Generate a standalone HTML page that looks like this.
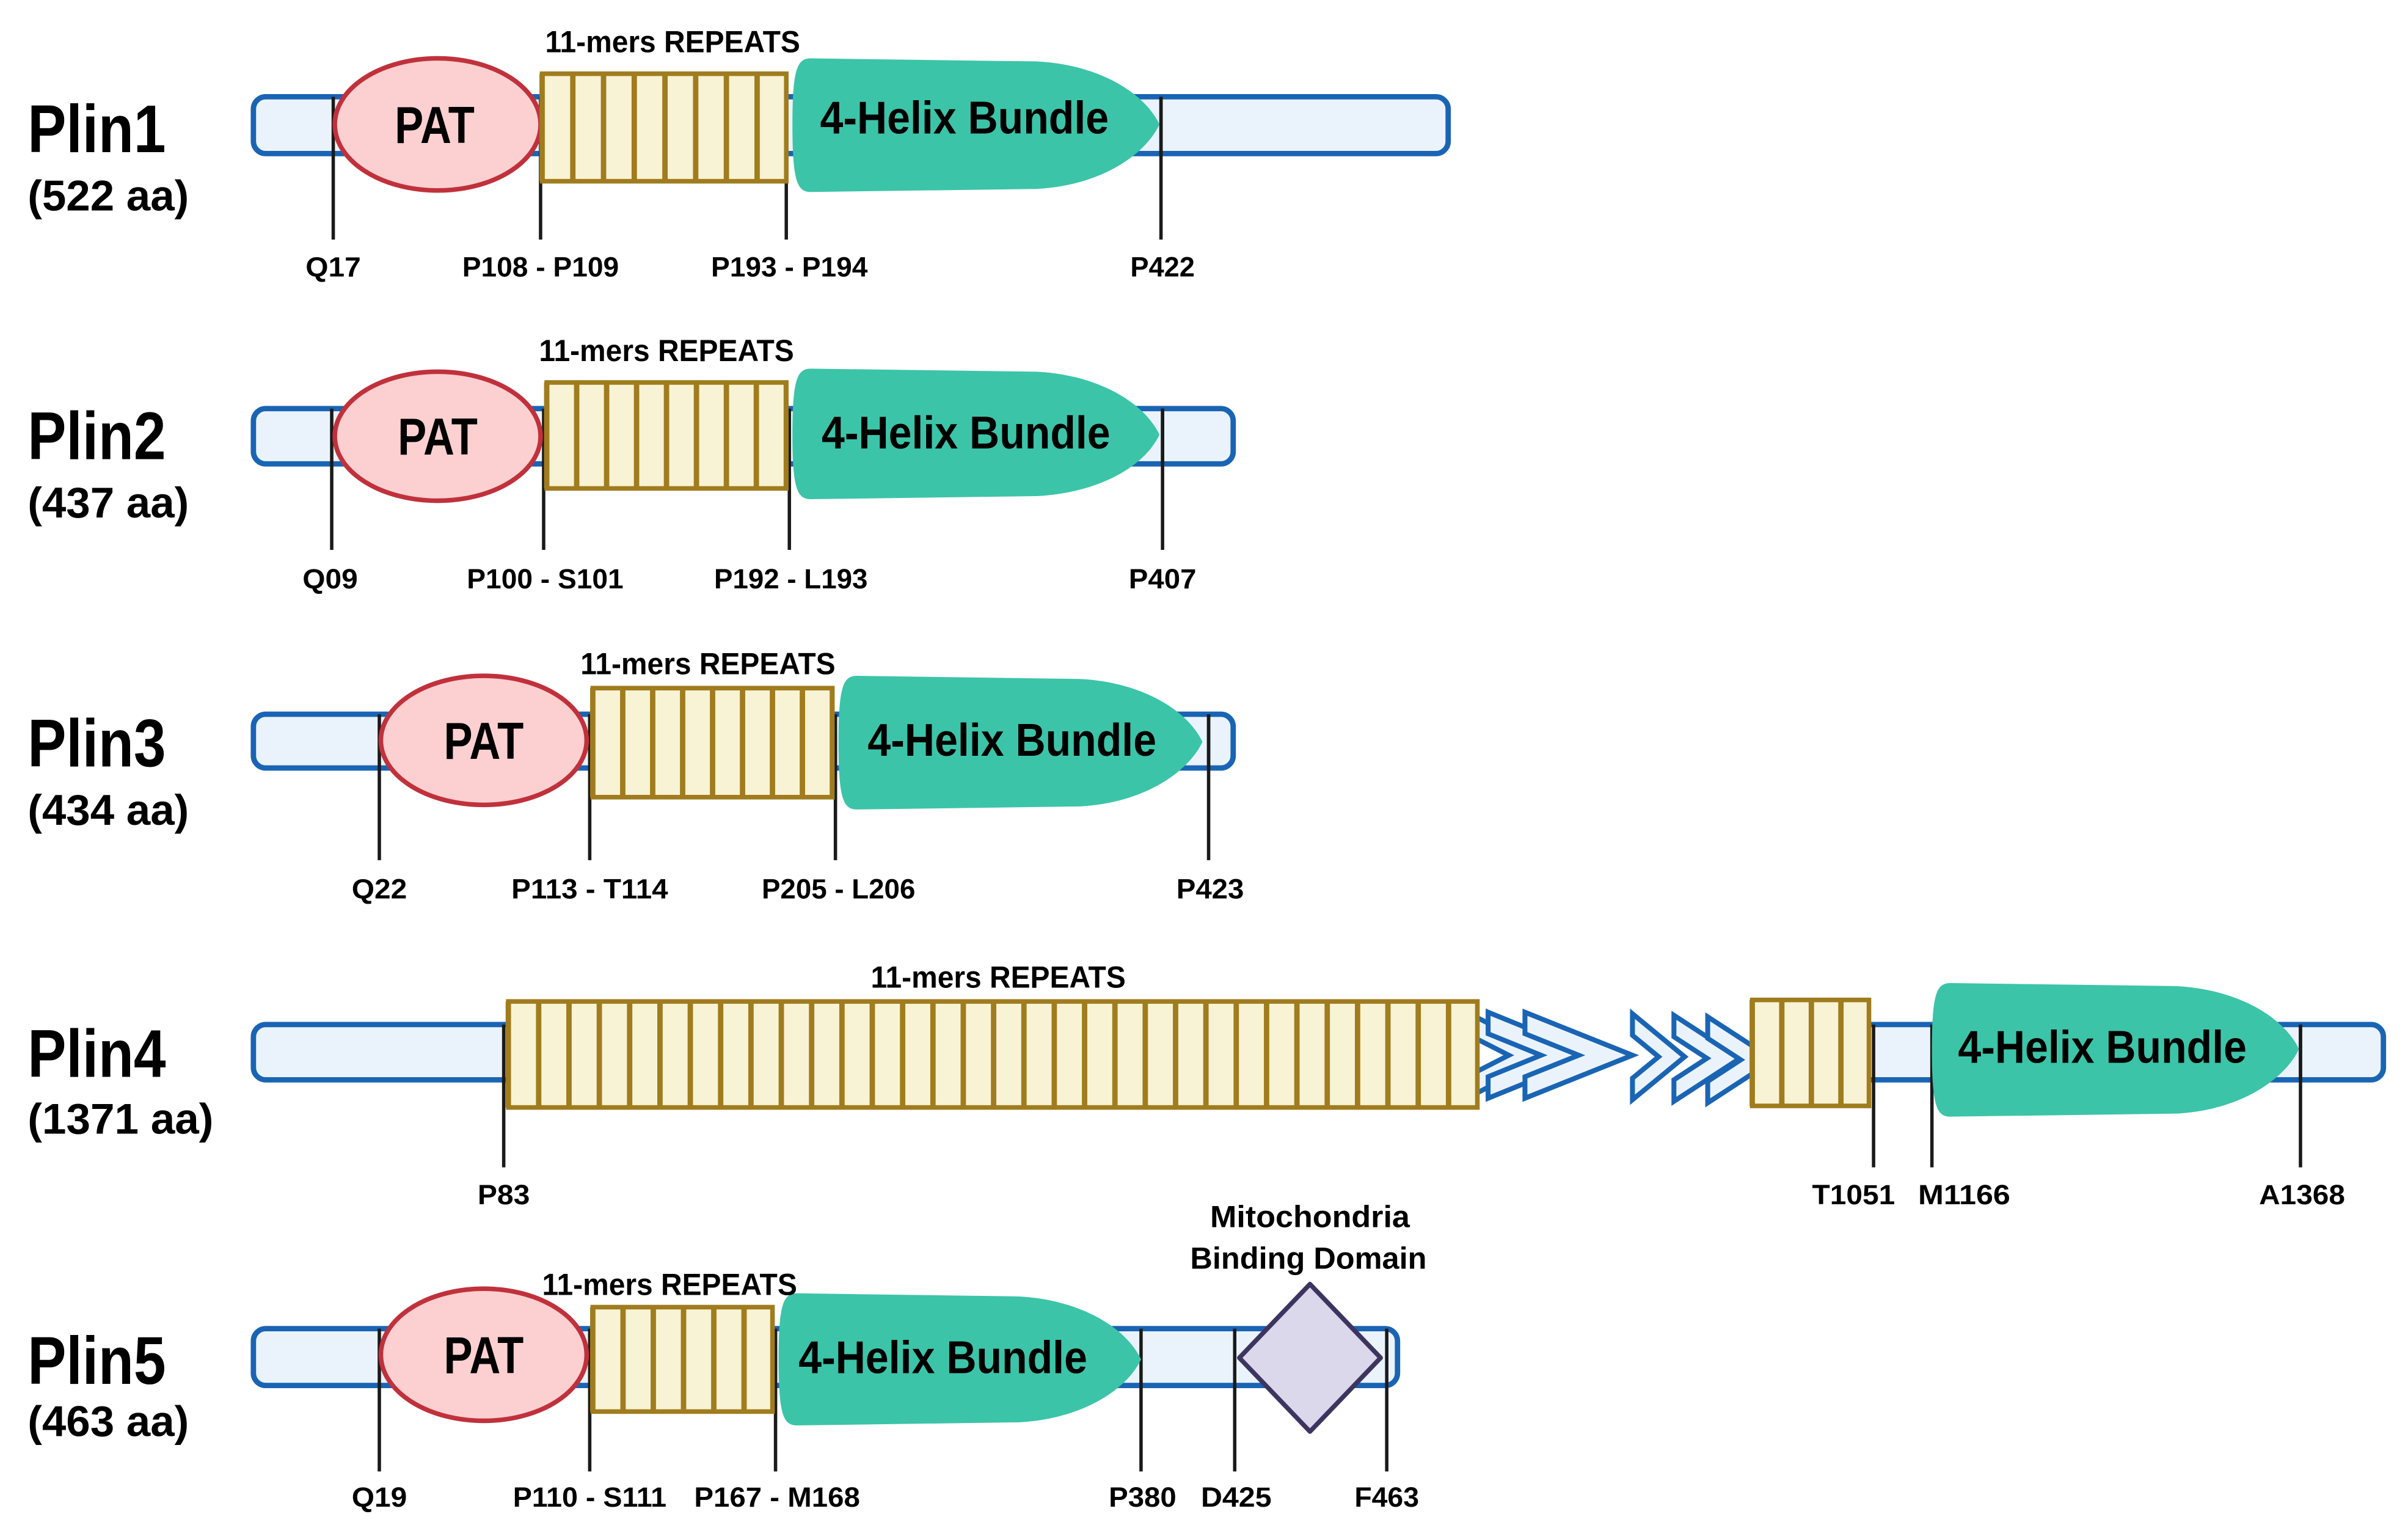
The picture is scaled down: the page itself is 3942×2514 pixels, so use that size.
<!DOCTYPE html>
<html><head><meta charset="utf-8"><style>
html,body{margin:0;padding:0;background:#fff}
svg{display:block}
text{font-family:"Liberation Sans",sans-serif;font-weight:bold;fill:#000}
.bar{fill:#eaf3fc;stroke:#1a64b4;stroke-width:3.5}
.pat{fill:#fcd0d0;stroke:#c0313c;stroke-width:3}
.rep{fill:#f8f3d4;stroke:#a07c1e;stroke-width:3}
.rl{stroke:#a07c1e;fill:none}
.hx{fill:#3cc4a8}
.tk{stroke:#1a1a1a;stroke-width:2.2}
.ch{fill:#eaf3fc;stroke:#1a64b4;stroke-width:3.2;stroke-linejoin:miter}
</style></head><body>
<svg width="3942" height="2514" viewBox="0 0 1568 1000" xmlns="http://www.w3.org/2000/svg">

<!-- ===== Plin1 ===== -->
<text x="18" y="99" font-size="44" textLength="90" lengthAdjust="spacingAndGlyphs">Plin1</text>
<text x="18" y="137" font-size="28" font-weight="normal" textLength="105" lengthAdjust="spacingAndGlyphs">(522 aa)</text>
<rect class="bar" x="165" y="63" width="778" height="37" rx="8"/>
<line class="tk" x1="217" y1="63" x2="217" y2="156"/>
<line class="tk" x1="352" y1="63" x2="352" y2="156"/>
<line class="tk" x1="512" y1="63" x2="512" y2="156"/>
<line class="tk" x1="756" y1="63" x2="756" y2="156"/>
<ellipse class="pat" cx="285" cy="81" rx="67" ry="43"/>
<rect class="rep" x="353" y="48" width="159" height="70"/>
<line class="rl" x1="351.25" y1="83" x2="512" y2="83" stroke-width="70" stroke-dasharray="3.5 16.5"/>
<path class="hx" d="M528,38 L675,40 C715,42 745,60 755,81 C745,102 715,121 675,123 L528,125 C519,125 516,118 516,81 C516,45 519,38 528,38 Z"/>
<line class="tk" x1="756" y1="63" x2="756" y2="100"/>
<text x="283" y="93" font-size="34" text-anchor="middle" textLength="52" lengthAdjust="spacingAndGlyphs">PAT</text>
<text x="628" y="87" font-size="30" text-anchor="middle" textLength="188" lengthAdjust="spacingAndGlyphs">4-Helix Bundle</text>
<text x="438" y="34" font-size="20" text-anchor="middle" textLength="166" lengthAdjust="spacingAndGlyphs">11-mers REPEATS</text>
<text x="217" y="180" font-size="18" text-anchor="middle" textLength="36" lengthAdjust="spacingAndGlyphs">Q17</text>
<text x="352" y="180" font-size="18" text-anchor="middle" textLength="102" lengthAdjust="spacingAndGlyphs">P108 - P109</text>
<text x="514" y="180" font-size="18" text-anchor="middle" textLength="102" lengthAdjust="spacingAndGlyphs">P193 - P194</text>
<text x="757" y="180" font-size="18" text-anchor="middle" textLength="42" lengthAdjust="spacingAndGlyphs">P422</text>

<!-- ===== Plin2 ===== -->
<text x="18" y="299" font-size="44" textLength="90" lengthAdjust="spacingAndGlyphs">Plin2</text>
<text x="18" y="337" font-size="28" font-weight="normal" textLength="105" lengthAdjust="spacingAndGlyphs">(437 aa)</text>
<rect class="bar" x="165" y="266" width="638" height="36" rx="8"/>
<line class="tk" x1="216" y1="266" x2="216" y2="358"/>
<line class="tk" x1="354" y1="266" x2="354" y2="358"/>
<line class="tk" x1="514" y1="266" x2="514" y2="358"/>
<line class="tk" x1="757" y1="266" x2="757" y2="358"/>
<ellipse class="pat" cx="285" cy="284" rx="67" ry="42"/>
<rect class="rep" x="356" y="249" width="156" height="69"/>
<line class="rl" x1="354.25" y1="283.5" x2="512" y2="283.5" stroke-width="69" stroke-dasharray="3.5 16"/>
<path class="hx" d="M528,240 L675,242 C715,244 745,262 755,283 C745,304 715,321 675,323 L528,325 C519,325 516,318 516,283 C516,247 519,240 528,240 Z"/>
<line class="tk" x1="757" y1="266" x2="757" y2="302"/>
<text x="285" y="296" font-size="34" text-anchor="middle" textLength="52" lengthAdjust="spacingAndGlyphs">PAT</text>
<text x="629" y="292" font-size="30" text-anchor="middle" textLength="188" lengthAdjust="spacingAndGlyphs">4-Helix Bundle</text>
<text x="434" y="235" font-size="20" text-anchor="middle" textLength="166" lengthAdjust="spacingAndGlyphs">11-mers REPEATS</text>
<text x="215" y="383" font-size="18" text-anchor="middle" textLength="36" lengthAdjust="spacingAndGlyphs">Q09</text>
<text x="355" y="383" font-size="18" text-anchor="middle" textLength="102" lengthAdjust="spacingAndGlyphs">P100 - S101</text>
<text x="515" y="383" font-size="18" text-anchor="middle" textLength="100" lengthAdjust="spacingAndGlyphs">P192 - L193</text>
<text x="757" y="383" font-size="18" text-anchor="middle" textLength="44" lengthAdjust="spacingAndGlyphs">P407</text>

<!-- ===== Plin3 ===== -->
<text x="18" y="499" font-size="44" textLength="90" lengthAdjust="spacingAndGlyphs">Plin3</text>
<text x="18" y="537" font-size="28" font-weight="normal" textLength="105" lengthAdjust="spacingAndGlyphs">(434 aa)</text>
<rect class="bar" x="165" y="465" width="638" height="35" rx="8"/>
<line class="tk" x1="247" y1="465" x2="247" y2="560"/>
<line class="tk" x1="384" y1="465" x2="384" y2="560"/>
<line class="tk" x1="544" y1="465" x2="544" y2="560"/>
<line class="tk" x1="787" y1="465" x2="787" y2="560"/>
<ellipse class="pat" cx="315" cy="482" rx="67" ry="42"/>
<rect class="rep" x="386" y="448" width="156" height="71"/>
<line class="rl" x1="384.25" y1="483.5" x2="542" y2="483.5" stroke-width="71" stroke-dasharray="3.5 16"/>
<path class="hx" d="M558,440 L703,442 C743,444 773,462 783,483 C773,504 743,523 703,525 L558,527 C549,527 546,520 546,483 C546,447 549,440 558,440 Z"/>
<line class="tk" x1="787" y1="465" x2="787" y2="500"/>
<text x="315" y="494" font-size="34" text-anchor="middle" textLength="52" lengthAdjust="spacingAndGlyphs">PAT</text>
<text x="659" y="492" font-size="30" text-anchor="middle" textLength="188" lengthAdjust="spacingAndGlyphs">4-Helix Bundle</text>
<text x="461" y="439" font-size="20" text-anchor="middle" textLength="166" lengthAdjust="spacingAndGlyphs">11-mers REPEATS</text>
<text x="247" y="585" font-size="18" text-anchor="middle" textLength="36" lengthAdjust="spacingAndGlyphs">Q22</text>
<text x="384" y="585" font-size="18" text-anchor="middle" textLength="102" lengthAdjust="spacingAndGlyphs">P113 - T114</text>
<text x="546" y="585" font-size="18" text-anchor="middle" textLength="100" lengthAdjust="spacingAndGlyphs">P205 - L206</text>
<text x="788" y="585" font-size="18" text-anchor="middle" textLength="44" lengthAdjust="spacingAndGlyphs">P423</text>

<!-- ===== Plin4 ===== -->
<text x="18" y="701" font-size="44" textLength="90" lengthAdjust="spacingAndGlyphs">Plin4</text>
<text x="18" y="738" font-size="28" font-weight="normal" textLength="121" lengthAdjust="spacingAndGlyphs">(1371 aa)</text>
<rect class="bar" x="165" y="667" width="1387" height="36" rx="8"/>
<rect x="963" y="662" width="177" height="60" fill="#fff"/>
<line class="tk" x1="328" y1="667" x2="328" y2="760"/>
<line class="tk" x1="1220" y1="667" x2="1220" y2="760"/>
<line class="tk" x1="1258" y1="667" x2="1258" y2="760"/>
<line class="tk" x1="1498" y1="667" x2="1498" y2="760"/>
<!-- chevrons -->
<polygon class="ch" points="955,659 1010,687 955,715 955,701 982.5,687 955,673"/>
<polygon class="ch" points="969,659 1038,687 969,715 969,701 1003.5,687 969,673"/>
<polygon class="ch" points="993,659 1063,687 993,715 993,701 1028,687 993,673"/>
<polygon class="ch" points="1063,660 1097,688 1063,716 1063,702 1080,688 1063,674"/>
<polygon class="ch" points="1090,661 1133,689 1090,717 1090,703 1111.5,689 1090,675"/>
<polygon class="ch" points="1112,662 1155,690 1112,718 1112,704 1133.5,690 1112,676"/>
<rect class="rep" x="331" y="652" width="631" height="69"/>
<line class="rl" x1="329.25" y1="686.5" x2="962" y2="686.5" stroke-width="69" stroke-dasharray="3.5 16.25"/>
<rect class="rep" x="1141" y="651" width="76" height="69"/>
<line class="rl" x1="1139.25" y1="685.5" x2="1217" y2="685.5" stroke-width="69" stroke-dasharray="3.5 15.75"/>
<path class="hx" d="M1270,640 L1417,642 C1457,644 1487,662 1497,683 C1487,704 1457,723 1417,725 L1270,727 C1261,727 1258,720 1258,683 C1258,647 1261,640 1270,640 Z"/>
<line class="tk" x1="1498" y1="667" x2="1498" y2="703"/>
<text x="1369" y="692" font-size="30" text-anchor="middle" textLength="188" lengthAdjust="spacingAndGlyphs">4-Helix Bundle</text>
<text x="650" y="643" font-size="20" text-anchor="middle" textLength="166" lengthAdjust="spacingAndGlyphs">11-mers REPEATS</text>
<text x="328" y="784" font-size="18" text-anchor="middle" textLength="34" lengthAdjust="spacingAndGlyphs">P83</text>
<text x="1207" y="784" font-size="18" text-anchor="middle" textLength="54" lengthAdjust="spacingAndGlyphs">T1051</text>
<text x="1279" y="784" font-size="18" text-anchor="middle" textLength="60" lengthAdjust="spacingAndGlyphs">M1166</text>
<text x="1499" y="784" font-size="18" text-anchor="middle" textLength="56" lengthAdjust="spacingAndGlyphs">A1368</text>

<!-- ===== Plin5 ===== -->
<text x="18" y="901" font-size="44" textLength="90" lengthAdjust="spacingAndGlyphs">Plin5</text>
<text x="18" y="935" font-size="28" font-weight="normal" textLength="105" lengthAdjust="spacingAndGlyphs">(463 aa)</text>
<rect class="bar" x="165" y="865" width="745" height="37" rx="8"/>
<line class="tk" x1="247" y1="865" x2="247" y2="958"/>
<line class="tk" x1="384" y1="865" x2="384" y2="958"/>
<line class="tk" x1="505" y1="865" x2="505" y2="958"/>
<line class="tk" x1="743" y1="865" x2="743" y2="958"/>
<line class="tk" x1="804" y1="865" x2="804" y2="958"/>
<ellipse class="pat" cx="315" cy="882" rx="67" ry="43"/>
<rect class="rep" x="386" y="851" width="117" height="68"/>
<line class="rl" x1="384.25" y1="885" x2="503" y2="885" stroke-width="68" stroke-dasharray="3.5 16.2"/>
<path class="hx" d="M519,842 L663,844 C703,846 733,864 743,885 C733,906 703,924 663,926 L519,928 C510,928 507,921 507,885 C507,849 510,842 519,842 Z"/>
<polygon points="853,836 899,884 853,932 807,884" fill="#dcd8ec" stroke="#3d3560" stroke-width="3" stroke-linejoin="round"/>
<line class="tk" x1="903" y1="865" x2="903" y2="958"/>
<text x="315" y="894" font-size="34" text-anchor="middle" textLength="52" lengthAdjust="spacingAndGlyphs">PAT</text>
<text x="614" y="894" font-size="30" text-anchor="middle" textLength="188" lengthAdjust="spacingAndGlyphs">4-Helix Bundle</text>
<text x="436" y="843" font-size="20" text-anchor="middle" textLength="166" lengthAdjust="spacingAndGlyphs">11-mers REPEATS</text>
<text x="853" y="799" font-size="20" font-weight="normal" text-anchor="middle" textLength="130" lengthAdjust="spacingAndGlyphs">Mitochondria</text>
<text x="852" y="826" font-size="20" font-weight="normal" text-anchor="middle" textLength="154" lengthAdjust="spacingAndGlyphs">Binding Domain</text>
<text x="247" y="981" font-size="18" text-anchor="middle" textLength="36" lengthAdjust="spacingAndGlyphs">Q19</text>
<text x="384" y="981" font-size="18" text-anchor="middle" textLength="100" lengthAdjust="spacingAndGlyphs">P110 - S111</text>
<text x="506" y="981" font-size="18" text-anchor="middle" textLength="108" lengthAdjust="spacingAndGlyphs">P167 - M168</text>
<text x="744" y="981" font-size="18" text-anchor="middle" textLength="44" lengthAdjust="spacingAndGlyphs">P380</text>
<text x="805" y="981" font-size="18" text-anchor="middle" textLength="46" lengthAdjust="spacingAndGlyphs">D425</text>
<text x="903" y="981" font-size="18" text-anchor="middle" textLength="42" lengthAdjust="spacingAndGlyphs">F463</text>
</svg>
</body></html>
